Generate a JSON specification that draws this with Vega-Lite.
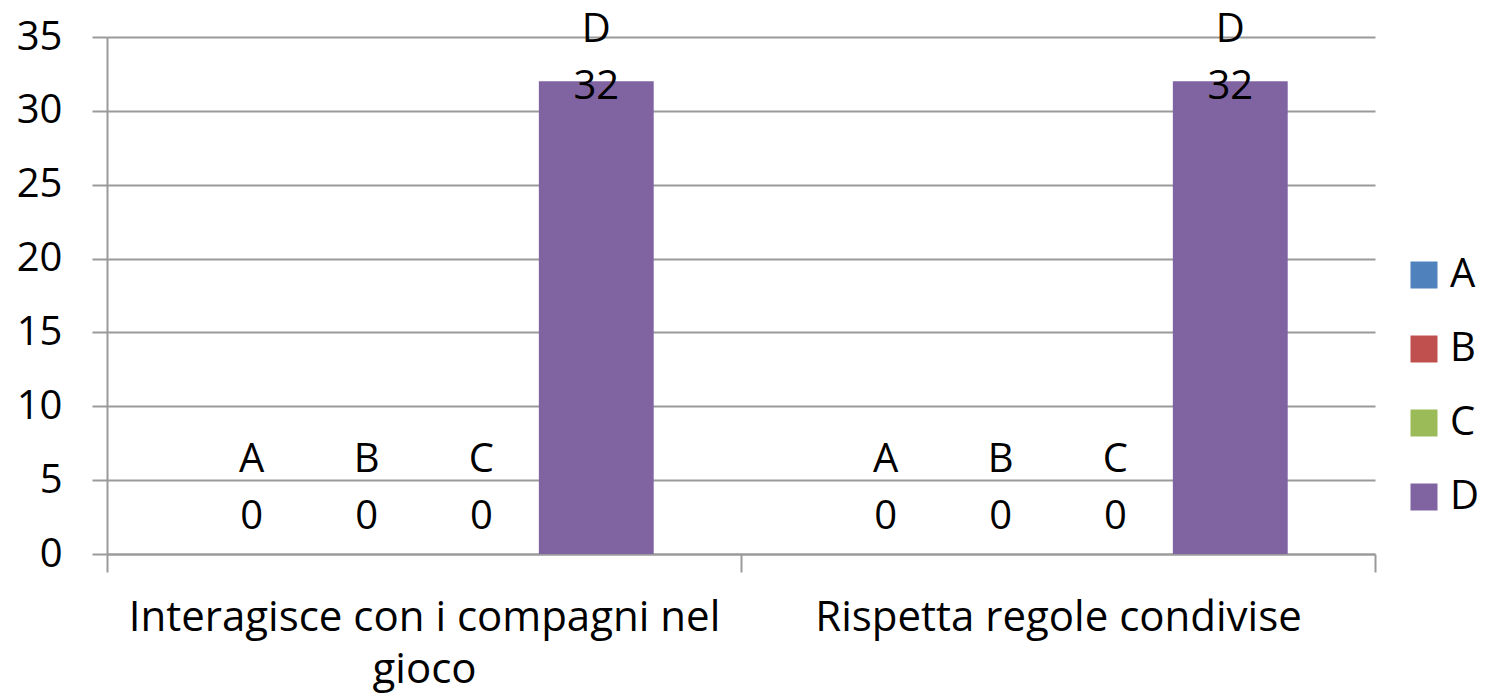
{
  "$schema": "https://vega.github.io/schema/vega-lite/v6.json",
  "width": 1268,
  "height": 517,
  "autosize": {"type": "none"},
  "padding": {"left": 107, "top": 37, "right": 112, "bottom": 144},
  "background": "white",
  "config": {"view": {"stroke": null}, "font": "Open Sans"},
  "data": {
    "values": [
      {"categoria": "Interagisce con i compagni nel gioco", "serie": "A", "valore": 0},
      {"categoria": "Interagisce con i compagni nel gioco", "serie": "B", "valore": 0},
      {"categoria": "Interagisce con i compagni nel gioco", "serie": "C", "valore": 0},
      {"categoria": "Interagisce con i compagni nel gioco", "serie": "D", "valore": 32},
      {"categoria": "Rispetta regole condivise", "serie": "A", "valore": 0},
      {"categoria": "Rispetta regole condivise", "serie": "B", "valore": 0},
      {"categoria": "Rispetta regole condivise", "serie": "C", "valore": 0},
      {"categoria": "Rispetta regole condivise", "serie": "D", "valore": 32}
    ]
  },
  "transform": [{"calculate": "min(datum.valore, 29.1)", "as": "pos"}],
  "encoding": {
    "x": {
      "field": "categoria",
      "type": "nominal",
      "sort": null,
      "scale": {"paddingInner": 0, "paddingOuter": 0},
      "axis": {
        "title": null,
        "labelAngle": 0,
        "labelFontSize": 42,
        "labelColor": "black",
        "labelLineHeight": 52,
        "labelPadding": 25,
        "labelLimit": 0,
        "labelExpr": "datum.value == 'Interagisce con i compagni nel gioco' ? ['Interagisce con i compagni nel', 'gioco'] : datum.value",
        "tickBand": "extent",
        "tickSize": 18,
        "tickColor": "#9a9a9a",
        "tickWidth": 2,
        "domainColor": "#9a9a9a",
        "domainWidth": 2,
        "grid": false
      }
    },
    "xOffset": {
      "field": "serie",
      "type": "nominal",
      "scale": {"paddingInner": 0, "paddingOuter": 0.76}
    }
  },
  "layer": [
    {
      "mark": {"type": "bar"},
      "encoding": {
        "y": {
          "field": "valore",
          "type": "quantitative",
          "scale": {"domain": [0, 35], "nice": false},
          "axis": {
            "title": null,
            "values": [0, 5, 10, 15, 20, 25, 30, 35],
            "labelFontSize": 40,
            "labelColor": "black",
            "labelPadding": 30,
            "tickSize": 15,
            "tickColor": "#9a9a9a",
            "tickWidth": 2,
            "domainColor": "#9a9a9a",
            "domainWidth": 2,
            "grid": true,
            "gridColor": "#9a9a9a",
            "gridWidth": 2
          }
        },
        "color": {
          "field": "serie",
          "type": "nominal",
          "scale": {
            "domain": ["A", "B", "C", "D"],
            "range": ["#4F81BD", "#C0504D", "#9BBB59", "#8064A2"]
          },
          "legend": {
            "title": null,
            "orient": "none",
            "legendX": 1297,
            "legendY": 218,
            "padding": 0,
            "symbolType": "square",
            "symbolSize": 729,
            "symbolStrokeWidth": 0,
            "labelFontSize": 40,
            "labelColor": "black",
            "labelOffset": 6,
            "rowPadding": 34
          }
        }
      }
    },
    {
      "mark": {"type": "text", "fontSize": 40, "baseline": "middle", "dy": -37, "color": "black"},
      "encoding": {
        "y": {"field": "pos", "type": "quantitative"},
        "text": {"field": "valore", "type": "quantitative"}
      }
    },
    {
      "mark": {"type": "text", "fontSize": 40, "baseline": "middle", "dy": -94, "color": "black"},
      "encoding": {
        "y": {"field": "pos", "type": "quantitative"},
        "text": {"field": "serie", "type": "nominal"}
      }
    }
  ]
}
